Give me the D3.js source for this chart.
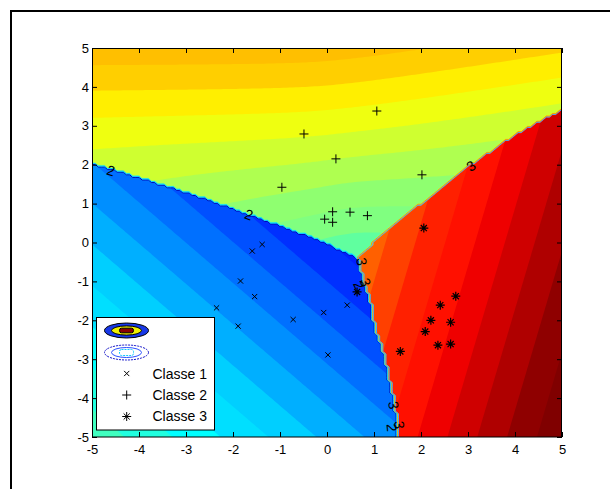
<!DOCTYPE html>
<html><head><meta charset="utf-8">
<script src="https://cdn.jsdelivr.net/npm/d3@7"></script>
<style>
body{margin:0;background:#fff}
svg{display:block}
text{font-family:"Liberation Sans",Arial,Helvetica,sans-serif}
</style>
</head><body>
<svg id="c" width="610" height="489"></svg>
<script>
// ---------------- data ----------------
const class1X = [-1.38,-1.59,-1.84,-1.54,-2.35,-1.89,-0.72,-0.07,0.43,0.02];
const class1Y = [-0.05,-0.22,-0.99,-1.39,-1.68,-2.15,-1.98,-1.80,-1.61,-2.89];
const class2X = [1.06,-0.49,0.19,-0.96,2.02,0.12,0.49,0.86,-0.05,0.12];
const class2Y = [3.38,2.79,2.15,1.42,1.74,0.79,0.78,0.69,0.60,0.52];
const class3X = [2.06,0.64,2.74,2.41,2.21,2.63,2.09,2.36,2.63,1.56];
const class3Y = [0.37,-1.27,-1.38,-1.61,-2.00,-2.05,-2.29,-2.64,-2.61,-2.80];
const classNames = ["Classe 1","Classe 2","Classe 3"];

const xTicks = [-5,-4,-3,-2,-1,0,1,2,3,4,5];
const yTicks = [-5,-4,-3,-2,-1,0,1,2,3,4,5];

// decision boundaries
const boundary12X = [-5,-4.26,-3.34,-2.49,-1.71,-0.72,-0.1,0.65];
const boundary12Y = [2.04,1.78,1.43,1.09,0.75,0.32,0.03,-0.39];
const boundary23X = [0.65,1.13,2.40,3.04,4.11,5];
const boundary23Y = [-0.39,0.15,1.39,1.99,2.85,3.41];
const boundary13Y = [-5,-4.48,-3.79,-3.19,-2.68,-2.16,-1.39,-1.05,-0.49,-0.39];
const boundary13X = [1.52,1.48,1.38,1.27,1.16,1.02,0.91,0.77,0.70,0.65];

// field inside each class region: value = class + p(x,y)
const classOffset = [1,2,3];
// class 1 and 3: planar
const pIntercept = [0.1055,0,0.104];
const pSlopeX    = [-0.098,0,0.1575];
const pSlopeY    = [-0.0945,0,-0.0385];
// class 2: mostly rising with y, bending around the junction, easing on the right
const c2Base = 0.52, c2SlopeY = 0.16, c2RefY = 2.2;
const c2Bend = 0.05, c2BendX = 0.5, c2BendY = 1.2, c2BendW = 0.8;
const c2Tilt = 0.03;

const levels = d3.range(5,42).map(d=>d/10);   // 0.5 .. 4.1 step 0.1
const colorLimits = [0.5,4];

// contour labels (level, position, boundary it sits on)
const labelText = ["2","2","3","3","2","3","3","2","3"];
const labelX = [-4.6,-1.66,3.06,0.74,0.68,0.82,1.42,1.38,1.54];
const labelY = [1.85,0.72,1.97,-0.49,-1.09,-1.02,-4.18,-4.76,-4.69];
const labelOn = ["12","12","23","13","13","13","13","13","13"];

// ---------------- setup ----------------
const svg = d3.select("#c");
const xS = d3.scaleLinear().domain([-5,5]).range([92,562]);
const yS = d3.scaleLinear().domain([-5,5]).range([437,48]);

const b12 = d3.scaleLinear().domain(boundary12X).range(boundary12Y);
const b23 = d3.scaleLinear().domain(boundary23X).range(boundary23Y);
const b13 = d3.scaleLinear().domain(boundary13Y).range(boundary13X);
const xJ = boundary12X[boundary12X.length-1], yJ = boundary12Y[boundary12Y.length-1];

function classify(x,y){
  if (x <= xJ ? y >= b12(x) : y >= b23(x)) return 2;
  if (y > yJ) return x < xJ ? 1 : 3;
  return x < b13(y) ? 1 : 3;
}
function fieldValue(x,y,k){
  let p;
  if(k===1){
    const soft = (x + Math.sqrt(x*x+1))/2;
    const w = 1/(1+Math.exp((y-c2BendY)/c2BendW));
    p = c2Base + c2SlopeY*(y-c2RefY)
      + c2Bend*Math.sqrt((x-c2BendX)*(x-c2BendX)+0.25)*w
      - c2Tilt*soft;
  } else {
    p = pIntercept[k] + pSlopeX[k]*x + pSlopeY[k]*y;
  }
  p = Math.max(0, Math.min(1.09, p));
  return classOffset[k] + p;
}

// MATLAB jet(64)
function jetMap(m){
  const n = Math.ceil(m/4);
  const u = [];
  for(let i=1;i<=n;i++) u.push(i/n);
  for(let i=1;i<n;i++) u.push(1);
  for(let i=n;i>=1;i--) u.push(i/n);
  const g0 = Math.ceil(n/2) - (m%4===1?1:0);
  const cm = Array.from({length:m},()=>[0,0,0]);
  u.forEach((v,idx)=>{
    const g = g0+idx+1, r = g+n, b = g-n;
    if(g>=1&&g<=m) cm[g-1][1]=v;
    if(r>=1&&r<=m) cm[r-1][0]=v;
    if(b>=1&&b<=m) cm[b-1][2]=v;
  });
  return cm.map(c=>d3.rgb(c[0]*255,c[1]*255,c[2]*255).formatHex());
}
const jet = jetMap(64);
function levelColor(L){
  const i = Math.floor((L-colorLimits[0])/(colorLimits[1]-colorLimits[0])*64 + 1e-9);
  return jet[Math.max(0,Math.min(63,i))];
}

// grid
const N = 151, step = 10/(N-1);
const values = new Float64Array(N*N);
const classValues = new Float64Array(N*N);
for(let j=0;j<N;j++){
  const y = 5 - j*step;
  for(let i=0;i<N;i++){
    const x = -5 + i*step;
    const c = classify(x,y);
    classValues[j*N+i] = c;
    values[j*N+i] = fieldValue(x,y,c-1);
  }
}
const gx = d3.scaleLinear().domain([0.5,N-0.5]).range([xS(-5),xS(5)]);
const gy = d3.scaleLinear().domain([0.5,N-0.5]).range([yS(5),yS(-5)]);
const path = d3.geoPath(d3.geoTransform({point(x,y){this.stream.point(gx(x),gy(y));}}));

// outer figure frame
svg.append("rect").attr("x",11).attr("y",11).attr("width",640).attr("height",520)
  .attr("fill","none").attr("stroke","#000").attr("stroke-width",2);

svg.append("defs").append("clipPath").attr("id","clip")
  .append("rect").attr("x",92).attr("y",48).attr("width",470).attr("height",389);

const plot = svg.append("g").attr("clip-path","url(#clip)");

const bands = d3.contours().size([N,N]).thresholds(levels)(values);
plot.selectAll("path.band").data(bands).join("path").attr("class","band")
  .attr("d",path).attr("fill",d=>levelColor(d.value)).attr("stroke","none");

// class boundary lines (thin coloured strips along the jumps)
const lineLevels = [1.12,1.5,2.25,2.62];
const lineColors = ["#0000b4","#10c8ff","#ff9a00","#40a8ff"];
const lines = d3.contours().size([N,N]).thresholds(lineLevels)(classValues);
plot.selectAll("path.bline").data(lines).join("path").attr("class","bline")
  .attr("d",path).attr("fill","none")
  .attr("stroke",(d,i)=>lineColors[i]).attr("stroke-width",1);

// contour labels
function labelAngle(k){
  let dx, dy;
  if(labelOn[k]==="12"){ dx = 0.1; dy = b12(labelX[k]+0.1)-b12(labelX[k]); }
  else if(labelOn[k]==="23"){ dx = 0.1; dy = b23(labelX[k]+0.1)-b23(labelX[k]); }
  else { dy = -0.1; dx = b13(labelY[k]-0.1)-b13(labelY[k]); }
  const sx = xS(labelX[k]+dx)-xS(labelX[k]), sy = yS(labelY[k]+dy)-yS(labelY[k]);
  let a = Math.atan2(sy,sx)*180/Math.PI;
  if(a>90) a-=180; if(a<-90) a+=180;
  return a;
}
plot.selectAll("text.clab").data(labelText).join("text").attr("class","clab")
  .attr("transform",(d,i)=>`translate(${xS(labelX[i])},${yS(labelY[i])}) rotate(${labelAngle(i)})`)
  .attr("text-anchor","middle").attr("dy","0.36em")
  .attr("font-size",14).attr("fill","#000").text(d=>d);

// markers
function crossP(x,y,r){return `M${x-r},${y-r}L${x+r},${y+r}M${x-r},${y+r}L${x+r},${y-r}`;}
function plusP(x,y,r){return `M${x-r},${y}L${x+r},${y}M${x},${y-r}L${x},${y+r}`;}
function starP(x,y,r){return plusP(x,y,r)+crossP(x,y,r*0.68);}
const mk = svg.append("g").attr("fill","none").attr("stroke","#000").attr("stroke-width",1);
mk.selectAll("path.c1").data(class1X).join("path").attr("class","c1")
  .attr("d",(d,i)=>crossP(xS(d),yS(class1Y[i]),2.6));
mk.selectAll("path.c2").data(class2X).join("path").attr("class","c2")
  .attr("d",(d,i)=>plusP(xS(d),yS(class2Y[i]),4.5));
mk.selectAll("path.c3").data(class3X).join("path").attr("class","c3")
  .attr("d",(d,i)=>starP(xS(d),yS(class3Y[i]),4.5)).attr("stroke-width",1.2);

// axes box and ticks
svg.append("rect").attr("x",92.5).attr("y",48.5).attr("width",469).attr("height",388.5)
  .attr("fill","none").attr("stroke","#000").attr("stroke-width",1);
const fmt = d=>String(d);
const ax = (g)=>{g.select(".domain").remove(); g.selectAll("text").attr("font-size",13).attr("fill","#000");};
svg.append("g").attr("transform","translate(0,437)")
  .call(d3.axisBottom(xS).tickValues(xTicks).tickFormat(fmt).tickSizeInner(-5).tickSizeOuter(0).tickPadding(8)).call(ax);
svg.append("g").attr("transform","translate(0,48)")
  .call(d3.axisTop(xS).tickValues(xTicks).tickFormat("").tickSizeInner(-5).tickSizeOuter(0)).call(ax);
svg.append("g").attr("transform","translate(92,0)")
  .call(d3.axisLeft(yS).tickValues(yTicks).tickFormat(fmt).tickSizeInner(-5).tickSizeOuter(0).tickPadding(3)).call(ax);
svg.append("g").attr("transform","translate(562,0)")
  .call(d3.axisRight(yS).tickValues(yTicks).tickFormat("").tickSizeInner(-5).tickSizeOuter(0)).call(ax);

// legend
const lg = svg.append("g");
lg.append("rect").attr("x",96.5).attr("y",317.5).attr("width",118).attr("height",112.5)
  .attr("fill","#fff").attr("stroke","#000").attr("stroke-width",1);
lg.append("ellipse").attr("cx",126.5).attr("cy",330.5).attr("rx",22).attr("ry",7.5)
  .attr("fill","#1838e8").attr("stroke","#000");
lg.append("ellipse").attr("cx",126.5).attr("cy",330.5).attr("rx",15).attr("ry",4.6)
  .attr("fill","#f0f000").attr("stroke","#000");
lg.append("rect").attr("x",119.5).attr("y",328.2).attr("width",14).attr("height",4.6).attr("rx",2)
  .attr("fill","#8c0000").attr("stroke","#000");
lg.append("ellipse").attr("cx",126.5).attr("cy",352.5).attr("rx",22).attr("ry",7.5)
  .attr("fill","none").attr("stroke","#1010c8").attr("stroke-dasharray","2,1");
lg.append("ellipse").attr("cx",126.5).attr("cy",352.5).attr("rx",15).attr("ry",5)
  .attr("fill","none").attr("stroke","#2a50ff");
lg.append("rect").attr("x",119.5).attr("y",349.5).attr("width",14).attr("height",6).attr("rx",2)
  .attr("fill","none").attr("stroke","#10c8ff").attr("stroke-dasharray","2,1");
const legMarkers = [crossP(126.7,373.5,2.6),plusP(126.7,395,4.5),starP(126.7,416.5,4.5)];
lg.selectAll("path.lm").data(legMarkers).join("path").attr("class","lm")
  .attr("d",d=>d).attr("fill","none").attr("stroke","#000");
lg.selectAll("text.lt").data(classNames).join("text").attr("class","lt")
  .attr("x",152.5).attr("y",(d,i)=>378.5+i*21.3).attr("font-size",14).attr("fill","#000").text(d=>d);
</script>
</body></html>
